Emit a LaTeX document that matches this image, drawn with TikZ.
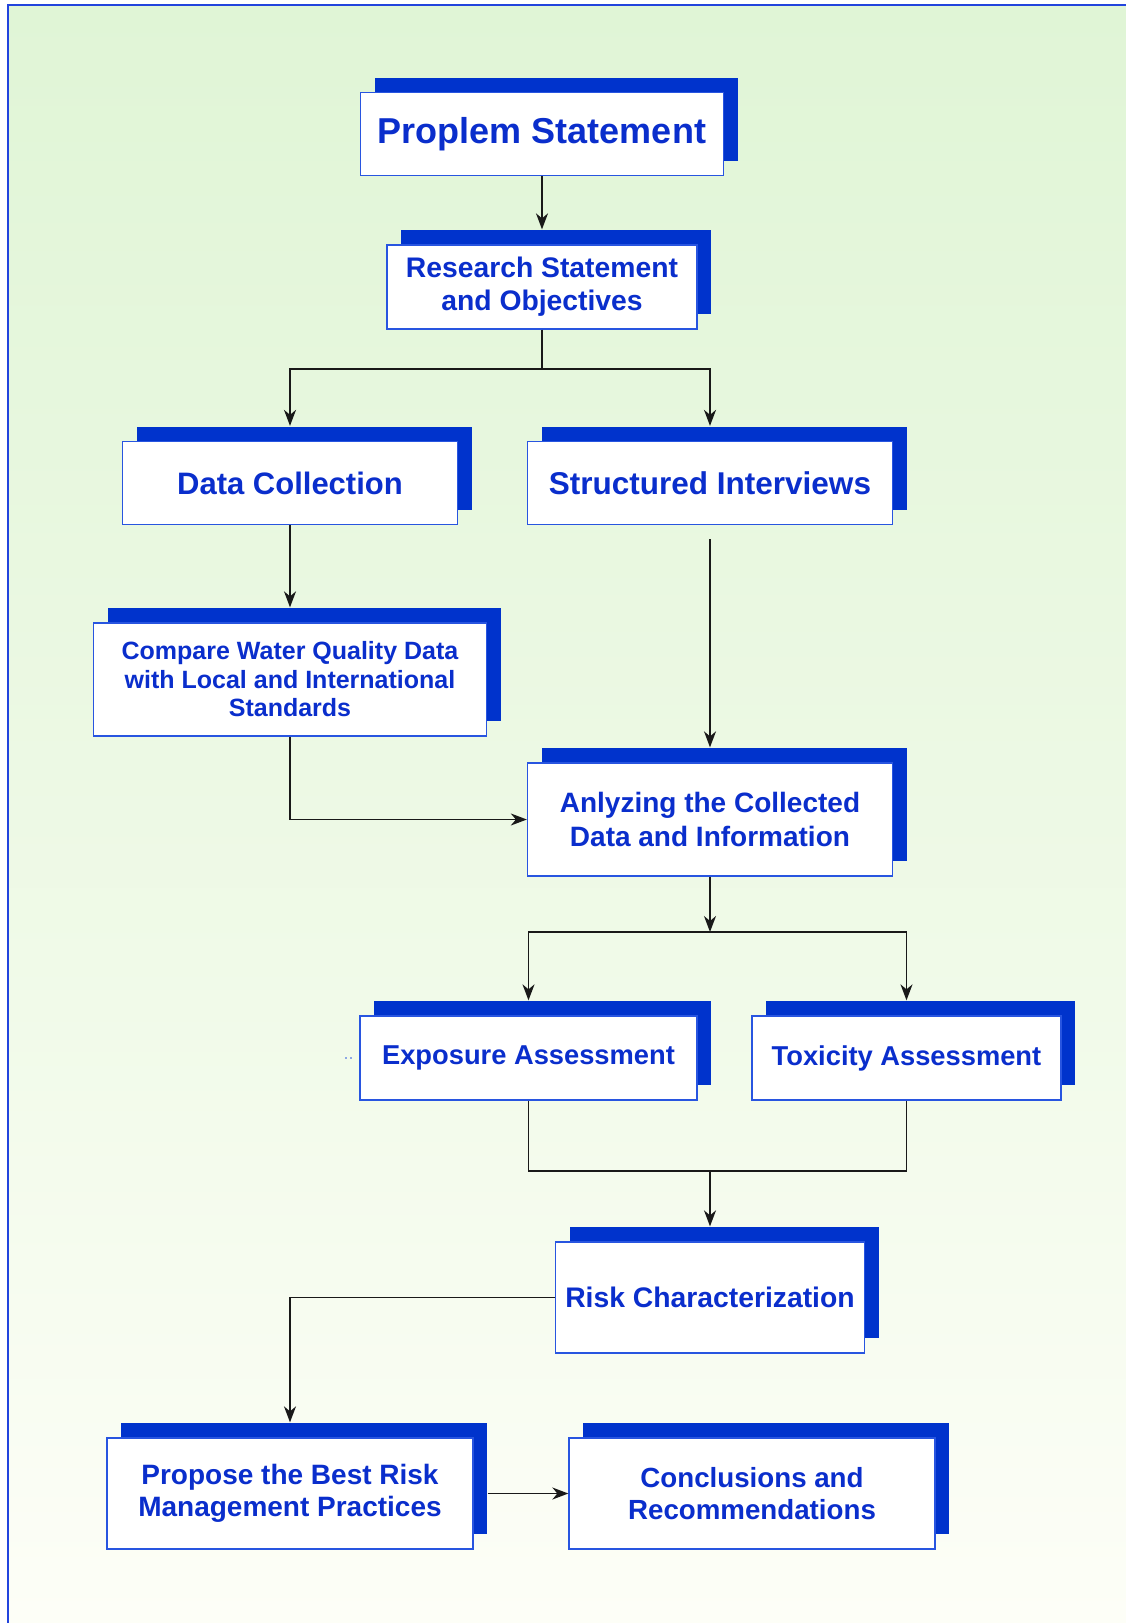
\documentclass[tikz,border=0pt]{standalone}
\usepackage{fontspec}
\setmainfont{Liberation Sans}
\usetikzlibrary{shadows,arrows.meta}
\definecolor{shadowblue}{HTML}{0033CC}
\definecolor{txtblue}{HTML}{0A2ECC}
\definecolor{boxborder}{HTML}{2855E0}
\definecolor{framec}{HTML}{2244DD}
\definecolor{bgtop}{HTML}{E0F5D6}
\definecolor{bgbot}{HTML}{FDFEF7}
\newcommand{\fsz}[2]{\fontsize{#1}{#2}\selectfont\bfseries}
\tikzset{
  box/.style={draw=boxborder, line width=1.3pt, fill=white, text=txtblue,
    align=center, inner sep=0pt,
    general shadow={fill=shadowblue, shadow xshift=14pt, shadow yshift=15pt}},
  conn/.style={draw=black!90, line width=1.6pt},
  arr/.style={conn, -{Stealth[length=16pt,width=12pt,inset=5pt]}}
}
\begin{document}
\begin{tikzpicture}[x=1pt,y=-1pt]
\useasboundingbox (0,0) rectangle (1126,1623);
\fill[white] (0,0) rectangle (1126,1623);
\shade[top color=bgtop, bottom color=bgbot, middle color=bgtop!55!bgbot] (8,5) rectangle (1126,1623);
\draw[framec, line width=1.5pt] (8,1623) -- (8,5) -- (1126,5);

\node[box, minimum width=363pt, minimum height=83pt, font=\fsz{36}{42}] (ps) at (542,134) {Proplem Statement};
\node[box, minimum width=310pt, minimum height=84pt, font=\fsz{28.3}{33}] (rs) at (542,287) {Research Statement\\and Objectives};
\node[box, minimum width=335pt, minimum height=83pt, font=\fsz{31}{36}] (dc) at (290,483) {Data Collection};
\node[box, minimum width=365pt, minimum height=83pt, font=\fsz{31.5}{36}] (si) at (710,483) {Structured Interviews};
\node[box, minimum width=393pt, minimum height=113pt, font=\fsz{25}{28.5}] (cw) at (290,679.5) {Compare Water Quality Data\\with Local and International\\Standards};
\node[box, minimum width=365pt, minimum height=113pt, font=\fsz{28}{34}] (an) at (710,819.5) {Anlyzing the Collected\\Data and Information};
\node[box, minimum width=337pt, minimum height=84pt, font=\fsz{27.3}{32}] (ex) at (528.5,1058) {Exposure Assessment};
\node[box, minimum width=309pt, minimum height=84pt, font=\fsz{27.3}{32}] (tx) at (906.5,1058) {Toxicity Assessment};
\node[box, minimum width=309pt, minimum height=111pt, font=\fsz{28.3}{33}] (rc) at (710,1297.5) {Risk Characterization};
\node[box, minimum width=366pt, minimum height=111pt, font=\fsz{28}{32}] (pr) at (290,1493.5) {Propose the Best Risk\\Management Practices};
\node[box, minimum width=366pt, minimum height=111pt, font=\fsz{27.7}{32}] (cr) at (752,1493.5) {Conclusions and\\Recommendations};

% stray dots left of Exposure Assessment
\fill[boxborder] (346,1058) circle (0.8pt) (351,1058) circle (0.8pt);

% connectors
\draw[arr] (ps.south) -- ([yshift=15pt]rs.north);
\coordinate (j1) at (542,369);
\draw[conn] (rs.south) -- (j1);
\draw[arr] (j1) -| ([yshift=15pt]dc.north);
\draw[arr] (j1) -| ([yshift=15pt]si.north);
\draw[arr] (dc.south) -- ([yshift=15pt]cw.north);
\draw[arr] ([yshift=-14pt]si.south) -- ([yshift=15pt]an.north);
\draw[arr] (cw.south) |- (an.west);
\coordinate (j2) at (710,932);
\draw[arr] (an.south) -- (j2);
\draw[arr] (j2) -| ([yshift=15pt]ex.north);
\draw[arr] (j2) -| ([yshift=15pt]tx.north);
\coordinate (j3) at (710,1171);
\draw[conn] (ex.south) |- (j3) -| (tx.south);
\draw[arr] (j3) -- ([yshift=15pt]rc.north);
\draw[arr] (rc.west) -| ([yshift=15pt]pr.north);
\draw[arr] ([xshift=14pt]pr.east) -- (cr.west);
\end{tikzpicture}
\end{document}
